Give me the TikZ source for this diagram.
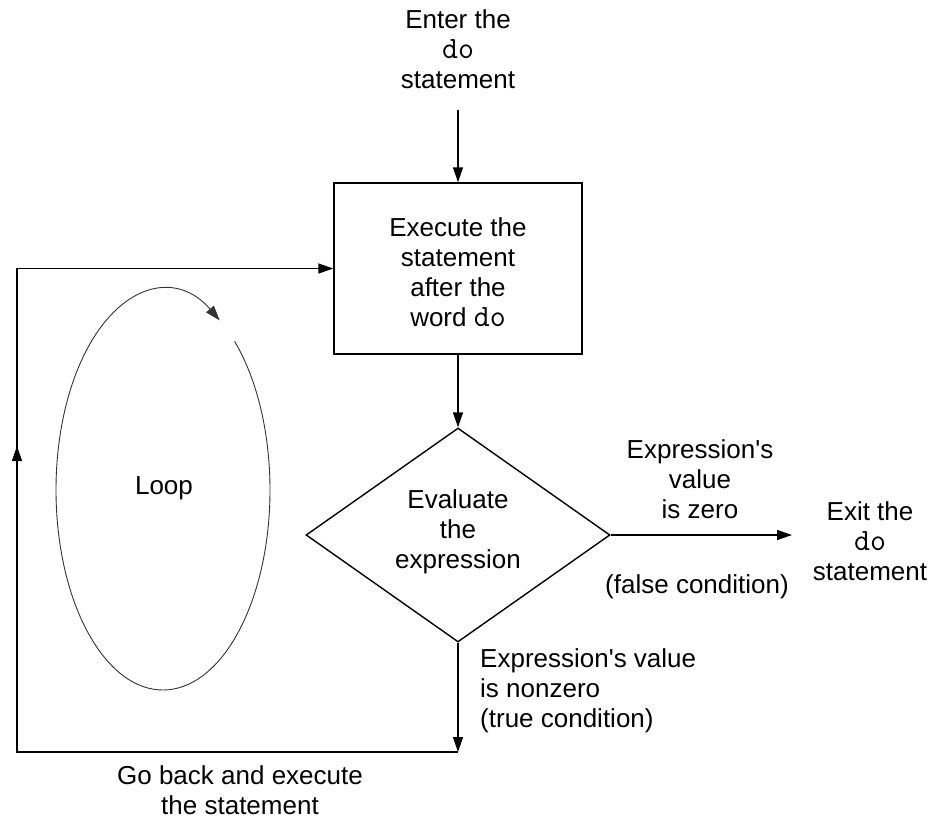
\documentclass[tikz,border=0pt]{standalone}
\usepackage{fontspec}
\setmainfont{Liberation Sans}
\usetikzlibrary{arrows.meta,shapes.geometric}
\newcommand\dokw{{\ttfamily\fontsize{31}{30}\selectfont do}}
\begin{document}
\begin{tikzpicture}[x=1pt,y=-1pt,
  txt/.style={font=\fontsize{26}{30}\selectfont, align=center, inner sep=0pt},
  line/.style={line width=1.4pt},
  arr/.style={line, -{Triangle[length=15pt,width=10pt]}},
  looparr/.style={line width=0.9pt, draw=black!80, -{Triangle[length=15pt,width=10pt]}}]
\useasboundingbox (0,0) rectangle (933,822);
% nodes
\node[txt] (enter) at (458,49) {Enter the\\\dokw\\statement};
\node[draw, line, minimum width=248pt, minimum height=171pt, inner sep=0pt] (box) at (458,268.5) {};
\node[txt] (boxtxt) at (458,272) {Execute the\\statement\\after the\\word \dokw};
\node[draw, line, shape=diamond, minimum width=304pt, minimum height=214pt, inner sep=0pt, aspect=1.42] (d) at (458,535) {};
\node[txt] (dtxt) at (458,532) {Evaluate\\the\\expression};
\node[txt] (exit) at (870,541) {Exit the\\\dokw\\statement};
\node[txt] (zero) at (700,479) {Expression\textquotesingle s\\value\\is zero};
\node[txt] (false) at (697,587) {(false condition)};
\node[txt, align=left, anchor=west] (nonzero) at (480,691) {Expression\textquotesingle s value\\is nonzero\\(true condition)};
\node[txt] (goback) at (240,790) {Go back and execute\\the statement};
\node[txt] (loop) at (164,488) {Loop};
% coordinates
\coordinate (exitin) at (792,535);
\coordinate (corner) at (458,752);
\coordinate (bl) at (17,752);
\coordinate (tl) at (17,268.5);
\coordinate (mid) at (17,446);
% connectors
\draw[arr] (enter.south |- 0,110) -- (box.north);
\draw[arr] (box.south) -- (d.north);
\draw[arr] (d.east) -- (exitin);
\draw[arr] (d.south) -- (corner);
\draw[arr] (corner) -- (bl) -- (tl) -- (box.west);
\draw[arr] (bl) -- (mid);
% loop ellipse
\draw[looparr] ([shift={(-48:107 and 200)}]163,490) arc[start angle=-48, end angle=302, x radius=107, y radius=200];
\end{tikzpicture}
\end{document}
